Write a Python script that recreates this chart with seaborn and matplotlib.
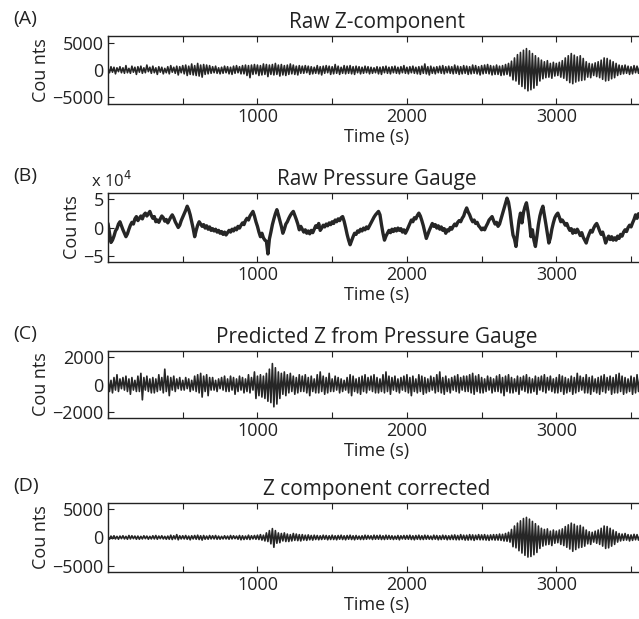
import numpy as np
import pandas as pd
import matplotlib
matplotlib.use("Agg")
import matplotlib.pyplot as plt
import seaborn as sns

SAMPLE_STEP_S = 10

# (A) Raw Z-component, counts
raw_z = [
    300,-500,600,-400,500,-700,400,-300,600,-500,
    400,-600,800,-500,300,-600,700,-400,500,-800,
    600,-400,700,-600,400,-500,900,-300,500,-600,
    700,-500,400,-800,600,-400,500,-700,300,-500,
    600,-700,800,-400,500,-600,700,-900,600,-500,
    800,-700,900,-1000,700,-800,1100,-900,800,-1000,
    1200,-1100,900,-1300,1000,-800,900,-700,800,-600,
    600,-500,700,-600,400,-700,500,-600,700,-500,
    600,-700,500,-800,700,-600,800,-500,600,-700,
    800,-700,900,-1000,800,-1400,900,-800,1000,-700,
    900,-1000,800,-900,1100,-800,1000,-1200,900,-800,
    1000,-900,1200,-800,900,-1100,1000,-900,800,-1000,
    900,-800,1100,-700,900,-800,700,-900,800,-600,
    700,-600,800,-500,700,-800,600,-700,500,-600,
    800,-700,600,-900,700,-600,800,-500,700,-800,
    600,-700,1000,-600,700,-800,500,-600,800,-700,
    700,-600,800,-700,600,-800,700,-500,600,-700,
    500,-600,700,-500,600,-700,500,-600,400,-500,
    600,-700,500,-800,600,-500,700,-600,500,-700,
    600,-500,700,-600,500,-700,600,-500,800,-600,
    500,-700,600,-500,700,-600,500,-700,600,-800,
    700,-600,1100,-700,600,-900,700,-600,500,-700,
    600,-500,700,-600,800,-700,600,-500,700,-600,
    600,-700,900,-600,700,-800,600,-700,800,-600,
    700,-800,600,-700,900,-600,800,-700,600,-900,
    800,-700,900,-600,1000,-700,800,-900,700,-800,
    900,-800,700,-1000,800,-900,1000,-800,1200,-1100,
    1600,-1800,2200,-2000,2800,-2600,3200,-3000,3600,-3400,
    3900,-3800,3500,-3600,3000,-3300,2600,-2800,2200,-2000,
    1800,-1600,1500,-1400,1700,-1300,1200,-1500,1400,-1100,
    1200,-1000,1400,-1300,1700,-1500,2200,-1900,2600,-2300,
    3000,-2500,2700,-2200,2400,-2000,2600,-1900,2100,-1800,
    1500,-1300,1200,-1400,1100,-1000,1300,-1200,1500,-1400,
    1800,-1700,2200,-2000,2100,-1900,1800,-1600,1500,-1400,
    1200,-1000,900,-800,800,-700,900,-600,700,-800,
    600,-700,800,-500,700,-600,800,-500,600,-700,500,
]

# (B) Raw pressure gauge, units of 10^4 counts
raw_pressure = [
    0.7,-1.0,-2.6,-2.2,-1.5,-0.6,-0.2,0.6,1.0,0.3,
    -0.4,-1.0,-1.6,-1.1,-0.3,0.4,0.9,0.6,1.5,1.9,
    1.2,1.6,2.0,1.5,2.2,2.5,2.0,2.4,2.8,2.1,
    1.6,1.9,1.0,1.3,0.9,1.5,2.0,1.7,1.1,1.4,
    0.8,1.3,1.8,2.2,1.7,1.0,0.5,0.0,0.4,1.2,
    1.8,2.4,3.0,3.7,3.1,2.2,1.0,-0.2,-1.6,-0.5,
    0.4,1.0,0.6,0.2,0.5,-0.1,0.3,-0.3,0.1,-0.5,
    -0.2,-0.6,-0.3,-0.8,-0.5,-1.0,-0.7,-1.2,-0.8,-1.3,
    -0.9,-0.5,-0.8,-0.3,-0.6,-0.1,-0.4,0.2,-0.1,0.4,
    0.8,0.5,1.2,1.6,1.3,2.0,2.4,2.8,2.0,1.0,
    0.2,-0.8,-1.6,-1.0,-1.8,-2.2,-2.4,-4.6,-2.0,-0.8,
    0.5,1.5,2.4,3.1,2.2,1.2,0.2,-1.0,-0.3,0.6,
    1.0,1.6,2.1,2.5,2.8,2.1,1.4,0.6,-0.4,0.2,
    -0.3,-0.8,-0.4,-1.0,-0.6,-1.1,-0.5,-0.9,-0.3,0.3,
    0.0,0.7,-0.5,-0.1,0.4,0.1,0.6,0.3,0.8,0.5,
    1.0,0.7,1.3,1.0,1.5,1.2,1.7,1.9,1.1,0.0,
    -1.2,-2.2,-3.0,-2.3,-1.6,-1.0,-1.2,-0.6,-0.8,-0.3,
    -0.6,-0.1,-0.4,0.1,-0.2,0.3,0.8,1.3,1.8,2.2,
    2.5,2.8,2.2,0.5,-1.0,-2.2,-1.5,-1.0,-0.5,-0.9,
    -0.3,-0.7,-0.2,-0.6,-0.1,-0.5,-0.2,-0.8,-0.4,-1.0,
    -0.5,0.1,0.7,1.3,1.0,1.7,1.5,2.1,2.5,2.0,
    1.2,0.3,-0.8,-1.9,-1.2,-0.5,0.1,0.7,0.2,0.5,
    -0.1,0.3,-0.3,0.1,-0.5,-0.2,-1.0,-0.4,-0.6,0.0,
    -0.3,0.2,0.6,0.3,0.9,1.2,1.0,1.6,2.0,2.8,
    3.4,2.7,2.2,1.5,1.0,1.3,0.7,0.9,0.3,0.0,
    -0.4,-0.1,-0.4,0.2,0.7,1.3,1.6,1.9,1.2,0.6,
    0.9,0.2,0.6,1.5,2.4,3.3,4.2,5.1,4.4,2.8,
    0.6,-1.3,-2.0,-3.3,-1.0,1.2,2.5,0.8,2.6,3.6,
    4.3,2.8,0.9,-1.6,-0.4,-2.2,-3.3,-1.5,0.5,2.0,
    3.0,3.7,2.2,0.6,-1.0,-2.7,-1.8,-0.3,0.8,1.7,
    2.2,2.5,1.8,1.0,1.3,0.9,0.4,0.7,0.0,-0.5,
    -0.2,-1.0,-0.4,-0.9,-0.3,-0.8,-1.4,-0.9,-1.7,-2.2,
    -2.7,-1.8,-1.1,-0.5,-0.8,-0.1,0.4,0.7,0.1,-0.6,
    -1.2,-0.8,-1.7,-2.7,-2.0,-1.5,-2.1,-1.6,-2.2,-1.8,
    -2.2,-1.5,-1.9,-1.2,-1.5,-0.8,-0.4,-0.7,0.0,0.4,
    0.1,0.8,1.4,2.2,1.6,2.4,2.0,2.7,2.3,3.0,2.6,
]

# (C) Predicted Z from pressure gauge, counts
predicted_z = [
    400,-500,300,-600,500,-400,700,-500,400,-300,
    500,-400,600,-500,400,-700,500,-400,300,-500,
    600,-500,800,-1100,500,-400,600,-500,400,-600,
    500,-600,400,-500,700,-400,500,-600,1100,-500,
    600,-800,500,-400,600,-500,400,-300,500,-400,
    300,-400,500,-300,400,-500,300,-400,600,-500,
    700,-600,800,-900,600,-500,700,-800,500,-400,
    500,-400,300,-500,400,-300,500,-400,600,-500,
    400,-500,600,-400,500,-700,400,-500,600,-400,
    500,-600,400,-500,700,-600,500,-400,900,-1000,
    600,-800,700,-900,600,-1000,800,-1200,1100,-1300,
    1500,-1600,1200,-1400,900,-1000,800,-700,900,-800,
    700,-600,800,-500,600,-700,500,-600,700,-500,
    600,-500,700,-600,500,-800,600,-500,400,-600,
    700,-600,900,-500,600,-700,500,-600,800,-500,
    400,-500,600,-400,500,-600,400,-500,300,-400,
    500,-600,700,-800,600,-500,400,-600,500,-700,
    600,-500,700,-600,500,-400,600,-500,700,-600,
    500,-600,400,-500,700,-600,900,-500,600,-700,
    500,-400,600,-500,400,-600,500,-400,600,-500,
    700,-600,500,-800,600,-500,400,-600,700,-500,
    600,-700,500,-600,400,-500,600,-400,500,-600,
    700,-500,900,-600,500,-700,600,-500,400,-600,
    500,-400,600,-500,700,-600,500,-400,600,-500,
    600,-500,700,-600,800,-700,600,-500,700,-600,
    500,-600,400,-500,600,-400,500,-600,400,-500,
    600,-500,700,-600,500,-800,600,-500,700,-600,
    500,-600,400,-500,600,-700,500,-400,600,-500,
    700,-600,500,-600,400,-500,600,-700,500,-400,
    600,-500,700,-600,500,-400,600,-500,400,-600,
    500,-600,700,-500,600,-700,500,-600,400,-500,
    600,-700,500,-600,800,-500,600,-400,500,-600,
    700,-600,500,-700,600,-500,400,-600,500,-700,
    600,-500,700,-600,500,-400,600,-700,500,-600,
    700,-600,800,-500,600,-700,500,-600,400,-500,
    600,-700,500,-600,700,-500,600,-400,500,-600,700,
]

# (D) Z component corrected, counts
corrected_z = [
    200,-300,250,-200,300,-250,200,-300,250,-200,
    300,-250,200,-300,350,-250,300,-200,250,-300,
    250,-300,200,-250,300,-200,250,-300,200,-250,
    300,-250,350,-300,250,-200,300,-250,200,-300,
    250,-300,400,-350,300,-250,500,-400,300,-250,
    300,-250,350,-300,250,-400,300,-250,350,-300,
    400,-350,300,-450,350,-300,250,-300,350,-250,
    300,-250,350,-300,250,-300,200,-250,300,-250,
    250,-300,350,-250,300,-200,250,-300,350,-400,
    300,-350,250,-300,400,-350,300,-250,350,-300,
    400,-350,500,-450,400,-600,800,-700,1200,-1100,
    1550,-1700,1200,-1000,800,-900,700,-600,800,-700,
    600,-700,500,-600,700,-500,600,-550,500,-600,
    500,-450,400,-500,450,-400,350,-450,400,-350,
    350,-400,300,-350,400,-300,350,-400,300,-350,
    400,-350,300,-400,350,-300,400,-350,300,-400,
    350,-300,400,-350,300,-400,350,-300,250,-350,
    300,-350,400,-300,350,-250,300,-350,400,-300,
    350,-300,400,-350,300,-350,400,-300,350,-300,
    300,-350,250,-300,350,-400,300,-250,350,-300,
    350,-300,400,-350,300,-400,350,-300,400,-350,
    300,-350,400,-300,350,-300,250,-350,400,-300,
    350,-400,300,-350,400,-300,350,-400,300,-350,
    400,-350,450,-400,350,-400,500,-350,400,-450,
    400,-450,500,-400,450,-500,400,-350,500,-400,
    450,-400,500,-450,400,-500,450,-400,500,-450,
    500,-450,600,-500,550,-600,700,-650,900,-800,
    1400,-1600,2000,-1800,2500,-2300,2900,-2700,3300,-3100,
    3500,-3400,3200,-3300,2800,-3000,2400,-2600,2000,-1900,
    1600,-1500,1400,-1300,1500,-1200,1100,-1400,1300,-1000,
    1100,-900,1300,-1200,1500,-1400,1900,-1700,2200,-2000,
    2500,-2400,2300,-2100,2000,-1800,2100,-1700,1800,-1500,
    1300,-1100,1000,-1200,900,-800,1100,-1000,1300,-1200,
    1600,-1500,2000,-1900,1900,-1800,1600,-1500,1300,-1200,
    1000,-800,700,-600,600,-500,700,-450,500,-600,
    450,-500,550,-400,500,-450,400,-500,450,-400,350,
]

panel_letters = ["(A)", "(B)", "(C)", "(D)"]
panel_titles = ["Raw Z-component", "Raw Pressure Gauge",
                "Predicted Z from Pressure Gauge", "Z component corrected"]
panel_series = [raw_z, raw_pressure, predicted_z, corrected_z]
y_ticks = [[-5000, 0, 5000], [-5, 0, 5], [-2000, 0, 2000], [-5000, 0, 5000]]
y_limits = [(-6200, 6200), (-6, 6), (-2400, 2400), (-6000, 6000)]
x_ticks = [0, 500, 1000, 1500, 2000, 2500, 3000, 3500]
x_tick_labels = ["", "", "1000", "", "2000", "", "3000", ""]
x_limits = (0, 3600)

# ---------------- style ----------------
sns.set_theme(style="ticks")
plt.rcParams["font.family"] = ["Open Sans", "DejaVu Sans"]
plt.rcParams["axes.linewidth"] = 1.0
plt.rcParams["axes.edgecolor"] = "#222222"
plt.rcParams["text.color"] = "#222222"
plt.rcParams["xtick.color"] = "#222222"
plt.rcParams["ytick.color"] = "#222222"
plt.rcParams["axes.labelcolor"] = "#222222"

W, H = 639, 619
fig = plt.figure(figsize=(W / 100, H / 100), dpi=100)

# axes boxes in pixels: (top, bottom)
boxes = [(36, 104), (193, 262), (351, 418), (503, 572)]
left_px, right_px = 108, 646
line_widths = [1.2, 2.4, 1.2, 1.2]
line_color = "#262626"

for i, (top, bot) in enumerate(boxes):
    ax = fig.add_axes([left_px / W, 1 - bot / H, (right_px - left_px) / W, (bot - top) / H])
    vals = panel_series[i]
    df = pd.DataFrame({"time": np.arange(len(vals)) * SAMPLE_STEP_S, "value": vals})
    sns.lineplot(data=df, x="time", y="value", ax=ax, color=line_color,
                 linewidth=line_widths[i], estimator=None, sort=False)
    ax.set_xlim(*x_limits)
    ax.set_ylim(*y_limits[i])
    ax.set_xticks(x_ticks)
    ax.set_xticklabels(x_tick_labels)
    ax.set_yticks(y_ticks[i])
    ax.tick_params(direction="in", top=True, right=True, length=4, width=0.8,
                   labelsize=13, pad=3)
    for s in ax.spines.values():
        s.set_visible(True)
    ax.set_xlabel("Time (s)", fontsize=13, labelpad=1)
    ax.set_ylabel("Cou nts", fontsize=13, labelpad=2)
    ax.set_title(panel_titles[i], fontsize=15, pad=6)
    fig.text(13 / W, 1 - (top - 17) / H, panel_letters[i], fontsize=14,
             ha="left", va="center")

# exponent label for the pressure panel
fig.text(91 / W, 1 - 181 / H, r"x 10$^{4}$", fontsize=12, ha="left", va="center")

fig.savefig("out.png", dpi=100)
